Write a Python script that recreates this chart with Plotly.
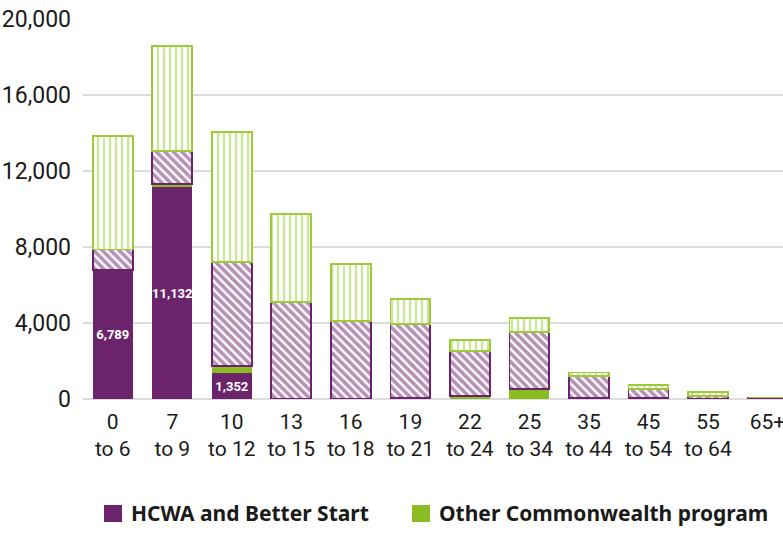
import plotly.graph_objects as go

age_from = ["0", "7", "10", "13", "16", "19", "22", "25", "35", "45", "55", "65+"]
age_to = ["to 6", "to 9", "to 12", "to 15", "to 18", "to 21", "to 24", "to 34", "to 44", "to 54", "to 64", ""]
categories = [a + ("<br>" + b if b else "") for a, b in zip(age_from, age_to)]

hcwa = [6789, 11132, 1352, 0, 0, 0, 0, 0, 0, 0, 0, 0]
other_cw = [0, 200, 385, 0, 0, 50, 150, 530, 60, 40, 20, 0]
hcwa_other = [1080, 1720, 5490, 5090, 4100, 3900, 2380, 3010, 1150, 480, 150, 80]
other_cw_other = [5960, 5530, 6840, 4630, 2990, 1310, 560, 740, 190, 200, 180, 0]

legend_names = ["HCWA and Better Start", "Other Commonwealth program"]

PURPLE = "#6b246b"
GREEN = "#8bbd23"
GREEN_LIGHT = "#9cca38"
TICK_FONT = "Roboto, Liberation Sans, sans-serif"

labels = [f"{v:,}" if v > 0 else "" for v in hcwa]

fig = go.Figure()
fig.add_trace(go.Bar(
    x=categories, y=hcwa, name=legend_names[0], showlegend=False,
    marker=dict(color=PURPLE, line=dict(width=0)),
    text=labels, textposition="inside", insidetextanchor="middle",
    textangle=0, constraintext="none",
    textfont=dict(color="white", size=13, family=TICK_FONT, weight="bold"),
    hoverinfo="skip",
))
fig.add_trace(go.Bar(
    x=categories, y=other_cw, name=legend_names[1], showlegend=False,
    marker=dict(color=GREEN, line=dict(width=0)),
    hoverinfo="skip",
))
fig.add_trace(go.Bar(
    x=categories, y=hcwa_other, showlegend=False,
    marker=dict(color="white", line=dict(color=PURPLE, width=1.8),
                pattern=dict(shape="\\", fgcolor=PURPLE, bgcolor="white",
                             size=6, solidity=0.6)),
    hoverinfo="skip",
))
fig.add_trace(go.Bar(
    x=categories, y=other_cw_other, showlegend=False,
    marker=dict(color="white", line=dict(color=GREEN_LIGHT, width=1.8),
                pattern=dict(shape="|", fgcolor=GREEN_LIGHT, bgcolor="white",
                             size=6, solidity=0.4)),
    hoverinfo="skip",
))

# legend drawn as shapes + annotations (paper coords)
leg_x = [0.03, 0.47]
for i, (name, col) in enumerate(zip(legend_names, [PURPLE, GREEN])):
    fig.add_shape(type="rect", xref="paper", yref="paper",
                  x0=leg_x[i], x1=leg_x[i] + 0.0257, y0=-0.3237, y1=-0.279,
                  fillcolor=col, line=dict(width=0))
    fig.add_annotation(xref="paper", yref="paper", x=leg_x[i] + 0.036, y=-0.301,
                       xanchor="left", yanchor="middle", showarrow=False,
                       text="<b>" + name + "</b>",
                       font=dict(size=21, color="#1a1a1a", family="Noto Sans"))

fig.update_layout(
    width=783, height=533,
    margin=dict(l=83, r=0, t=19, b=134),
    barmode="stack", bargap=0.33,
    showlegend=False,
    plot_bgcolor="white", paper_bgcolor="white",
    font=dict(family=TICK_FONT, color="#1a1a1a", size=21),
    xaxis=dict(
        type="category", range=[-0.5, 11.26], automargin=False,
        showgrid=False, showline=False, ticks="",
        tickfont=dict(size=21, color="#1a1a1a", family=TICK_FONT),
        ticklabelstandoff=8, ticklabeloverflow="allow",
    ),
    yaxis=dict(
        range=[0, 20000], tickvals=[0, 4000, 8000, 12000, 16000, 20000],
        tickformat=",d", showgrid=True, gridcolor="#dcdcdc", gridwidth=1.5,
        zeroline=True, zerolinecolor="#dcdcdc", zerolinewidth=2,
        showline=False, ticks="", ticklabelstandoff=11, automargin=False,
        ticklabeloverflow="allow",
        tickfont=dict(size=23, color="#1a1a1a", family=TICK_FONT),
    ),
)

fig.write_html("out.html",
               config={"displayModeBar": False},
               post_script="document.body.style.margin='0';")
